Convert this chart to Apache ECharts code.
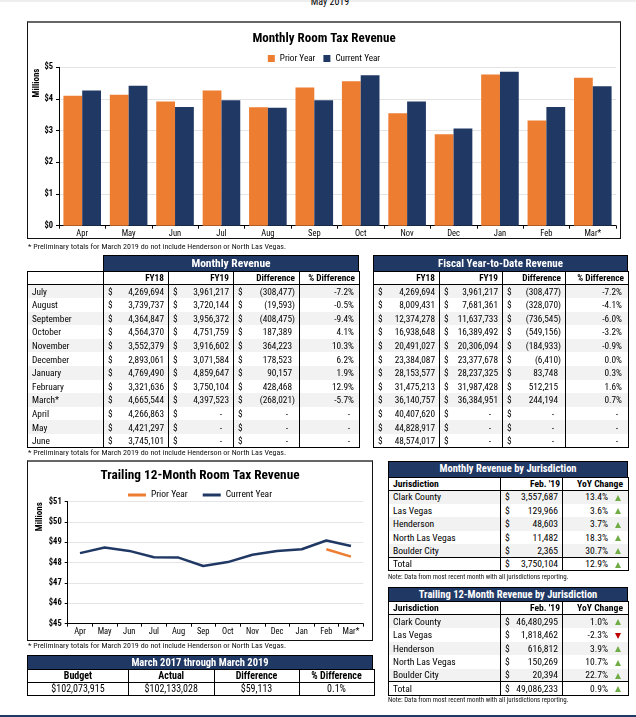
<!DOCTYPE html>
<html>
<head>
<meta charset="utf-8">
<script src="https://cdn.jsdelivr.net/npm/echarts@6/dist/echarts.min.js"></script>
<style>
  html,body{margin:0;padding:0;}
  body{width:636px;height:717px;position:relative;overflow:hidden;background:#fff;color:#000;
       font-family:"Roboto Condensed","Liberation Sans Narrow","Arial Narrow","DejaVu Sans Condensed",sans-serif;}
  .abs{position:absolute;}
  .box{position:absolute;box-sizing:border-box;border:1px solid #111;border-top:2px solid #666;pointer-events:none;}
  .note{position:absolute;font-size:8px;line-height:9px;white-space:nowrap;color:#111;}
  .note.s{font-size:6.9px;line-height:8px;}
  .nav{position:absolute;box-sizing:border-box;background:#203864;color:#fff;font-weight:bold;text-align:center;border:1px solid #000;white-space:nowrap;}
  table.t{position:absolute;border-collapse:collapse;table-layout:fixed;font-size:9.3px;border:1px solid #000;}
  table.t td{padding:0 4px;border-left:1px solid #000;border-right:1px solid #000;white-space:nowrap;overflow:hidden;line-height:1;}
  table.t tr.hd td{font-weight:bold;text-align:right;border-bottom:1px solid #000;background:#fff;}
  table.t tr.g td{background:#f2f2f2;}
  table.t tr.tot td{border-top:1px solid #000;}
  table.t tr td.r{text-align:right;}
  table.t tr td.l{text-align:left;}
  table.t tr td.c{text-align:center;}
  .m{display:flex;justify-content:space-between;}
  .up{display:inline-block;width:0;height:0;border-left:3.5px solid transparent;border-right:3.5px solid transparent;border-bottom:6px solid #70AD47;vertical-align:middle;margin-left:7px;}
  .dn{display:inline-block;width:0;height:0;border-left:3.5px solid transparent;border-right:3.5px solid transparent;border-top:6px solid #C00000;vertical-align:middle;margin-left:7px;}
</style>
</head>
<body>
<div class="abs" style="left:0;top:0;width:636px;height:2px;background:#eeeeee"></div>
<div class="abs" style="left:300px;top:-4px;width:60px;text-align:center;font-size:10px;">May 2019</div>

<div id="chart1" class="abs" style="left:27px;top:21px;width:594px;height:218px;"></div>
<div class="box" style="left:27px;top:21px;width:594px;height:218px;"></div>
<div class="note" style="left:28px;top:241.5px;">* Preliminary totals for March 2019 do not include Henderson or North Las Vegas.</div>

<div class="nav" style="left:103px;top:254.5px;width:256px;height:17px;font-size:11.5px;line-height:15px;">Monthly Revenue</div>
<div class="nav" style="left:373px;top:254.5px;width:255px;height:17px;font-size:11px;line-height:15px;">Fiscal Year-to-Date Revenue</div>
<div id="tblMonthly"></div>
<div id="tblYtd"></div>
<div class="note" style="left:28px;top:447.5px;">* Preliminary totals for March 2019 do not include Henderson or North Las Vegas.</div>

<div id="chart2" class="abs" style="left:27px;top:460px;width:346px;height:181px;"></div>
<div class="box" style="left:27px;top:460px;width:346px;height:181px;"></div>
<div class="note" style="left:28px;top:640.5px;">* Preliminary totals for March 2019 do not include Henderson or North Las Vegas.</div>

<div class="nav" style="left:27px;top:654.5px;width:346px;height:15px;font-size:10.5px;line-height:13px;">March 2017 through March 2019</div>
<div id="tblBudget"></div>

<div class="nav" style="left:388px;top:461px;width:240px;height:16.5px;font-size:10.5px;line-height:14.5px;">Monthly Revenue by Jurisdiction</div>
<div id="tblJurA"></div>
<div class="note s" style="left:388px;top:573px;">Note: Data from most recent month with all jurisdictions reporting.</div>
<div class="nav" style="left:388px;top:587px;width:240px;height:15px;font-size:10.5px;line-height:13px;">Trailing 12-Month Revenue by Jurisdiction</div>
<div id="tblJurB"></div>
<div class="note s" style="left:388px;top:696px;">Note: Data from most recent month with all jurisdictions reporting.</div>

<div class="abs" style="left:0;top:715px;width:636px;height:2px;background:#203864"></div>

<script>
// ---------- DATA ----------
const months = ['Apr','May','Jun','Jul','Aug','Sep','Oct','Nov','Dec','Jan','Feb','Mar*'];
const priorYearMonthly   = [4.10, 4.13, 3.92, 4.27, 3.74, 4.36, 4.56, 3.55, 2.89, 4.77, 3.32, 4.67];
const currentYearMonthly = [4.27, 4.42, 3.75, 3.96, 3.72, 3.96, 4.75, 3.92, 3.07, 4.86, 3.75, 4.40];
const monthlyTicks = [0, 1, 2, 3, 4, 5];

const trailingCurrent = [48.47, 48.75, 48.58, 48.27, 48.25, 47.84, 48.03, 48.39, 48.58, 48.66, 49.09, 48.82];
const trailingPrior   = [null, null, null, null, null, null, null, null, null, null, 48.66, 48.30];
const trailingTicks = [45, 46, 47, 48, 49, 50, 51];

const fiscalMonths = ['July','August','September','October','November','December','January','February','March*','April','May','June'];
const fy18      = [4269694,3739737,4364847,4564370,3552379,2893061,4769490,3321636,4665544,4266863,4421297,3745101];
const fy19      = [3961217,3720144,3956372,4751759,3916602,3071584,4859647,3750104,4397523,null,null,null];
const monthDiff = [-308477,-19593,-408475,187389,364223,178523,90157,428468,-268021,null,null,null];
const monthPct  = ['-7.2%','-0.5%','-9.4%','4.1%','10.3%','6.2%','1.9%','12.9%','-5.7%',null,null,null];
const ytdFy18   = [4269694,8009431,12374278,16938648,20491027,23384087,28153577,31475213,36140757,40407620,44828917,48574017];
const ytdFy19   = [3961217,7681361,11637733,16389492,20306094,23377678,28237325,31987428,36384951,null,null,null];
const ytdDiff   = [-308477,-328070,-736545,-549156,-184933,-6410,83748,512215,244194,null,null,null];
const ytdPct    = ['-7.2%','-4.1%','-6.0%','-3.2%','-0.9%','0.0%','0.3%','1.6%','0.7%',null,null,null];

const jurisdictions   = ['Clark County','Las Vegas','Henderson','North Las Vegas','Boulder City','Total'];
const monthlyJur      = [3557687,129966,48603,11482,2365,3750104];
const monthlyJurYoY   = ['13.4%','3.6%','3.7%','18.3%','30.7%','12.9%'];
const trailingJur     = [46480295,1818462,616812,150269,20394,49086233];
const trailingJurYoY  = ['1.0%','-2.3%','3.9%','10.7%','22.7%','0.9%'];

const budgetHeaders = ['Budget','Actual','Difference','% Difference'];
const budgetValues  = ['$102,073,915','$102,133,028','$59,113','0.1%'];

// ---------- HELPERS ----------
const FONT = '"Roboto Condensed","Liberation Sans Narrow","Arial Narrow","DejaVu Sans Condensed",sans-serif';
function num(n){ return Math.abs(n).toLocaleString('en-US'); }
function money(v, acct){
  if (v == null) return '<div class="m"><span>$</span><span style="padding-right:7px">-</span></div>';
  const s = v < 0 ? '(' + num(v) + ')' : num(v);
  const pr = acct ? (v < 0 ? 0 : 3) : 0;
  return '<div class="m"><span>$</span><span style="padding-right:' + pr + 'px">' + s + '</span></div>';
}
function pct(p){ return p == null ? '<span style="padding-right:4px">-</span>' : p; }
function colgroup(ws){ return '<colgroup>' + ws.map(w => '<col style="width:' + w + 'px">').join('') + '</colgroup>'; }

// Monthly revenue table
(function(){
  const ws = [76,65,65,66,60];
  let h = '<table class="t" style="left:27px;top:271px;width:332px;">' + colgroup(ws);
  h += '<tr class="hd" style="height:13px"><td></td><td>FY18</td><td>FY19</td><td>Difference</td><td>% Difference</td></tr>';
  fiscalMonths.forEach((m,i) => {
    h += '<tr class="' + (i%2===0?'g':'') + '" style="height:13.6px"><td class="l">' + m + '</td><td>' + money(fy18[i]) + '</td><td>' + money(fy19[i]) + '</td><td>' + money(monthDiff[i], true) + '</td><td class="r" style="padding-right:5px">' + pct(monthPct[i]) + '</td></tr>';
  });
  h += '</table>';
  document.getElementById('tblMonthly').innerHTML = h;
})();
// YTD table
(function(){
  const ws = [66,63,63,63];
  let h = '<table class="t" style="left:373px;top:271px;width:255px;">' + colgroup(ws);
  h += '<tr class="hd" style="height:13px"><td>FY18</td><td>FY19</td><td>Difference</td><td>% Difference</td></tr>';
  fiscalMonths.forEach((m,i) => {
    h += '<tr class="' + (i%2===0?'g':'') + '" style="height:13.6px"><td>' + money(ytdFy18[i]) + '</td><td>' + money(ytdFy19[i]) + '</td><td>' + money(ytdDiff[i], true) + '</td><td class="r" style="padding-right:6px">' + pct(ytdPct[i]) + '</td></tr>';
  });
  h += '</table>';
  document.getElementById('tblYtd').innerHTML = h;
})();
// Jurisdiction tables
function jurTable(id, top, vals, yoy){
  const ws = [112,62,66];
  let h = '<table class="t" style="left:388px;top:' + top + 'px;width:240px;font-size:9.6px;">' + colgroup(ws);
  h += '<tr class="hd" style="height:13.3px"><td class="l">Jurisdiction</td><td style="padding-right:2px">Feb. \'19</td><td style="padding-right:5px">YoY Change</td></tr>';
  jurisdictions.forEach((j,i) => {
    const last = i === jurisdictions.length - 1;
    const cls = last ? 'tot' : (i%2===0 ? 'g' : '');
    const arrow = yoy[i].charAt(0) === '-' ? '<span class="dn"></span>' : '<span class="up"></span>';
    h += '<tr class="' + cls + '" style="height:13.45px"><td class="l">' + j + '</td><td>' + money(vals[i]) + '</td><td class="r" style="padding-right:7px">' + yoy[i] + arrow + '</td></tr>';
  });
  h += '</table>';
  document.getElementById(id).innerHTML = h;
}
jurTable('tblJurA', 476.5, monthlyJur, monthlyJurYoY);
jurTable('tblJurB', 601, trailingJur, trailingJurYoY);
// Budget table
(function(){
  const ws = [101,85.5,85,75];
  let h = '<table class="t" style="left:27px;top:668.5px;width:346.5px;font-size:10px;">' + colgroup(ws);
  h += '<tr style="height:13px">' + budgetHeaders.map(t => '<td class="c" style="font-weight:bold;border-bottom:1px solid #000">' + t + '</td>').join('') + '</tr>';
  h += '<tr style="height:13.7px">' + budgetValues.map(t => '<td class="c">' + t + '</td>').join('') + '</tr>';
  h += '</table>';
  document.getElementById('tblBudget').innerHTML = h;
})();

// ---------- CHART 1 ----------
const axisTxt = {color:'#000', fontFamily:FONT};
const c1 = echarts.init(document.getElementById('chart1'), null, {renderer:'canvas'});
c1.setOption({
  animation:false,
  textStyle:{fontFamily:FONT},
  title:{text:'Monthly Room Tax Revenue', left:'center', top:6, textStyle:{fontSize:13, fontWeight:'bold', color:'#000', fontFamily:FONT}},
  legend:{top:28, left:'center', icon:'rect', itemWidth:7, itemHeight:7, itemGap:8, itemTextGap:3, textStyle:{fontSize:9.2, color:'#000', fontFamily:FONT}, data:['Prior Year','Current Year']},
  grid:{left:32, top:46.3, width:557, height:158.4},
  graphic:[{type:'text', x:9.5, y:62, rotation:Math.PI/2, style:{text:'Millions', textAlign:'center', textVerticalAlign:'middle', font:'bold 9px ' + FONT, fill:'#000'}}],
  xAxis:{type:'category', data:months, axisLine:{lineStyle:{color:'#000', width:1}}, axisTick:{show:true, alignWithLabel:false, length:3, lineStyle:{color:'#000'}},
         axisLabel:Object.assign({fontSize:8.5, margin:4}, axisTxt)},
  yAxis:{type:'value', min:monthlyTicks[0], max:monthlyTicks[monthlyTicks.length-1], interval:1,
         axisLine:{show:true, lineStyle:{color:'#000'}}, axisTick:{show:true, length:3, lineStyle:{color:'#000'}},
         axisLabel:Object.assign({formatter:'${value}', fontSize:8.5, fontWeight:'bold', margin:6}, axisTxt),
         splitLine:{lineStyle:{color:'#e4e4e4'}}},
  series:[
    {name:'Prior Year', type:'bar', data:priorYearMonthly, itemStyle:{color:'#ED7D31'}, barGap:'0%', barCategoryGap:'19%'},
    {name:'Current Year', type:'bar', data:currentYearMonthly, itemStyle:{color:'#203864'}, barGap:'0%', barCategoryGap:'19%'}
  ]
});

// ---------- CHART 2 ----------
const c2 = echarts.init(document.getElementById('chart2'), null, {renderer:'canvas'});
c2.setOption({
  animation:false,
  textStyle:{fontFamily:FONT},
  title:{text:'Trailing 12-Month Room Tax Revenue', left:'center', top:4, textStyle:{fontSize:13.3, fontWeight:'bold', color:'#000', fontFamily:FONT}},
  legend:{top:25, left:'center', icon:'rect', itemWidth:18, itemHeight:3, itemGap:15, itemTextGap:4, textStyle:{fontSize:9.5, color:'#000', fontFamily:FONT}, data:['Prior Year','Current Year']},
  grid:{left:40.7, top:41.7, width:295.6, height:122},
  graphic:[{type:'text', x:13, y:56.7, rotation:Math.PI/2, style:{text:'Millions', textAlign:'center', textVerticalAlign:'middle', font:'bold 9px ' + FONT, fill:'#000'}}],
  xAxis:{type:'category', data:months, boundaryGap:true, axisLine:{lineStyle:{color:'#000'}}, axisTick:{show:true, alignWithLabel:false, length:3, lineStyle:{color:'#000'}},
         axisLabel:Object.assign({fontSize:8.5, margin:4}, axisTxt)},
  yAxis:{type:'value', min:trailingTicks[0], max:trailingTicks[trailingTicks.length-1], interval:1,
         axisLine:{show:true, lineStyle:{color:'#000'}}, axisTick:{show:true, length:3, lineStyle:{color:'#000'}},
         axisLabel:Object.assign({formatter:'${value}', fontSize:8.5, fontWeight:'bold', margin:6}, axisTxt),
         splitLine:{lineStyle:{color:'#e4e4e4'}}},
  series:[
    {name:'Prior Year', type:'line', data:trailingPrior, showSymbol:false, symbol:'none', itemStyle:{color:'#ED7D31'}, lineStyle:{color:'#ED7D31', width:2.5}},
    {name:'Current Year', type:'line', data:trailingCurrent, showSymbol:false, symbol:'none', itemStyle:{color:'#203864'}, lineStyle:{color:'#203864', width:2.5}}
  ]
});
</script>
</body>
</html>
